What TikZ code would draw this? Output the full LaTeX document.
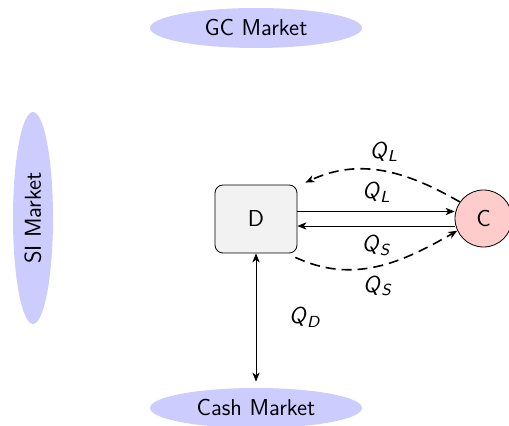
\documentclass[tikz,border=0pt]{standalone}
\usetikzlibrary{shapes.geometric,arrows.meta}
\newcommand{\qlab}[2]{\textit{#1}\raisebox{-0.35ex}{\footnotesize\textit{#2}}}
\begin{document}
\begin{tikzpicture}[x=0.5pt,y=-0.5pt,font=\sffamily\fontsize{11.5}{14}\selectfont,
  market/.style={ellipse,fill=blue!20,inner sep=0pt,minimum width=106pt,minimum height=20pt},
  dbox/.style={draw,rounded corners=4pt,fill=gray!10,minimum width=41pt,minimum height=34pt,inner sep=0pt},
  cnode/.style={draw,circle,fill=red!20,minimum size=28.5pt,inner sep=0pt},
  arr/.style={-{Stealth[length=4.5pt,width=3.6pt,inset=1.3pt]}},
  darr/.style={arr,thick,dashed,dash pattern=on 5pt off 3pt}]
\useasboundingbox (0,0) rectangle (509,426);
\node[market] (gc) at (256,28) {GC Market};
\node[market,rotate=90] (si) at (33,218) {SI Market};
\node[market] (cash) at (256,408) {Cash Market};
\node[dbox] (d) at (256,219) {D};
\node[cnode] (c) at (483.5,218.5) {C};
\draw[arr] ([yshift=3.75pt]d.east) -- node[above=1pt] {\qlab{Q}{L}} ([yshift=3.75pt]d.east -| c.west);
\draw[arr] (c.west |- 0,226) -- node[below=1pt] {\qlab{Q}{S}} (d.east |- 0,226);
\draw[darr] (c.145) to[out=150,in=25] node[above=1pt] {\qlab{Q}{L}} ([xshift=4pt,yshift=1pt]d.north east);
\draw[darr] ([xshift=-1pt,yshift=-2pt]d.south east) to[out=-25,in=-150] node[below=1pt] {\qlab{Q}{S}} (c.205);
\draw[{Stealth[length=4.5pt,width=3.6pt,inset=1.3pt]}-{Stealth[length=4.5pt,width=3.6pt,inset=1.3pt]}] (d.south) -- node[right=13pt] {\qlab{Q}{D}} ([yshift=3pt]cash.north);
\end{tikzpicture}
\end{document}
